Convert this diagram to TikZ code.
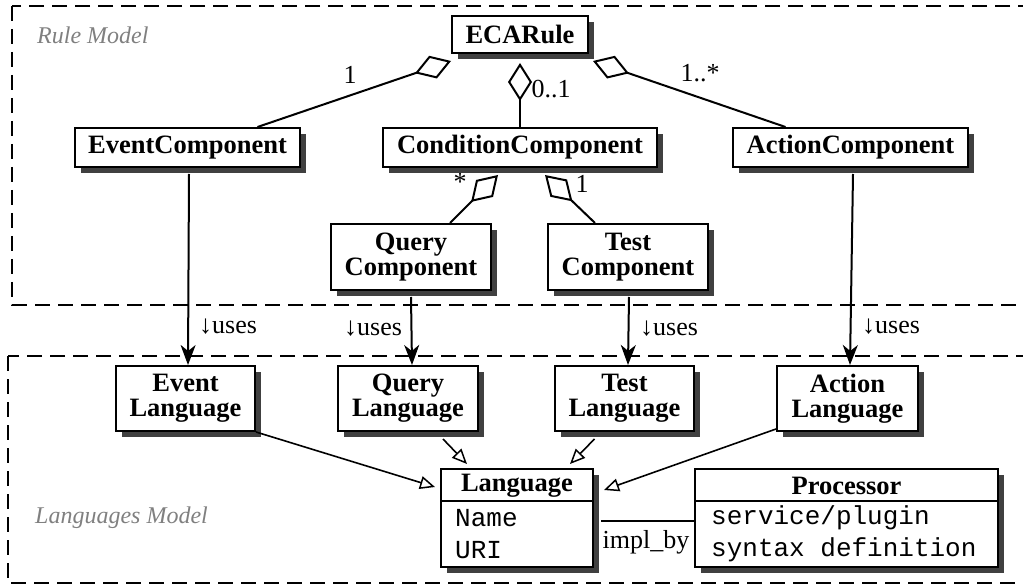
\documentclass[tikz,border=0pt]{standalone}
\usepackage{fontspec}
\setmainfont{Liberation Serif}
\setmonofont{Liberation Mono}
\usetikzlibrary{arrows.meta,shadows}
\definecolor{shadowgray}{HTML}{404040}
\definecolor{labelgray}{HTML}{808080}
\begin{document}
\begin{tikzpicture}[x=1pt,y=-1pt,
  cls/.style={draw, line width=2pt, fill=white, inner sep=0pt,
    font=\bfseries\fontsize{26.5}{25}\selectfont, align=center,
    drop shadow={shadow xshift=6pt, shadow yshift=-6pt, fill=shadowgray, opacity=1}},
  lbl/.style={inner sep=0pt, font=\fontsize{26}{28}\selectfont},
  hdr/.style={inner sep=0pt, font=\bfseries\fontsize{26.5}{28}\selectfont},
  attr/.style={inner sep=0pt, anchor=west, font=\ttfamily\fontsize{26}{28}\selectfont},
  ln/.style={line width=2pt},
  agg/.style={ln, -{Diamond[open, length=38pt, width=24pt, line width=2pt]}},
  uses/.style={ln, -{Stealth[length=20pt, width=15pt, inset=6pt]}},
  gen/.style={line width=1.6pt, -{Triangle[open, length=15pt, width=13pt, line width=1.5pt]}},
  region/.style={line width=2pt, dash pattern=on 15pt off 8pt},
  title/.style={inner sep=0pt, anchor=west, text=labelgray, font=\itshape\fontsize{24}{26}\selectfont}
]
\useasboundingbox (0,0) rectangle (1023,585);
% regions
\draw[region] (12,6) rectangle (1040,305);
\draw[region] (8,356) rectangle (1040,583);
\node[title] (rm) at (37,35) {Rule Model};
\node[title] (lm) at (35,518) {Languages Model};
% classes
\node[cls, minimum width=136pt, minimum height=37pt] (eca) at (520,34.5) {ECARule};
\node[cls, minimum width=225pt, minimum height=39pt] (ev) at (187.5,147.5) {EventComponent};
\node[cls, minimum width=274pt, minimum height=39pt] (cond) at (520,147.5) {ConditionComponent};
\node[cls, minimum width=235pt, minimum height=39pt] (act) at (850.5,147.5) {ActionComponent};
\node[cls, minimum width=160pt, minimum height=66pt] (qc) at (411,257) {Query\\Component};
\node[cls, minimum width=160pt, minimum height=66pt] (tc) at (628,257) {Test\\Component};
\node[cls, minimum width=139pt, minimum height=65pt] (evl) at (185.5,398.5) {Event\\Language};
\node[cls, minimum width=140pt, minimum height=65pt] (ql) at (408,398.5) {Query\\Language};
\node[cls, minimum width=139pt, minimum height=65pt] (tl) at (624.5,398.5) {Test\\Language};
\node[cls, minimum width=141pt, minimum height=65pt] (al) at (847.5,398.5) {Action\\Language};
\node[cls, minimum width=152pt, minimum height=98pt] (lang) at (517,518) {};
\node[cls, minimum width=303pt, minimum height=98pt] (proc) at (846.5,518) {};
\draw[ln] ([yshift=-33pt]lang.north west) -- ([yshift=-33pt]lang.north east);
\draw[ln] ([yshift=-33pt]proc.north west) -- ([yshift=-33pt]proc.north east);
\node[hdr] (langh) at (517,485.5) {Language};
\node[hdr] (proch) at (846.5,485.5) {Processor};
\node[attr] (a1) at (455,518) {Name};
\node[attr] (a2) at (455,550) {URI};
\node[attr] (p1) at (711,518) {service/plugin};
\node[attr] (p2) at (711,550) {syntax definition};
% aggregations
\draw[agg] ([xshift=70pt]ev.north) -- ([yshift=-7pt]eca.south west);
\draw[agg] ([xshift=-65pt]act.north) -- ([xshift=4pt,yshift=-7pt]eca.south east);
\draw[agg] (cond.north) -- ([yshift=-9pt]eca.south);
\draw[agg] ([xshift=39pt]qc.north) -- ([xshift=-22pt,yshift=-7pt]cond.south);
\draw[agg] ([xshift=-33pt]tc.north) -- ([xshift=25pt,yshift=-7pt]cond.south);
\node[lbl] (m1) at (350,75) {1};
\node[lbl] (m2) at (551,89) {0..1};
\node[lbl] (m3) at (700,73) {1..*};
\node[lbl] (m4) at (460,182) {*};
\node[lbl] (m5) at (582,184) {1};
% uses
\draw[uses] ([xshift=1.5pt,yshift=-6pt]ev.south) -- ([xshift=2.5pt]evl.north);
\draw[uses] ([yshift=-6pt]qc.south) -- ([xshift=4pt]ql.north);
\draw[uses] ([xshift=1pt,yshift=-6pt]tc.south) -- ([xshift=3.5pt]tl.north);
\draw[uses] ([xshift=2.5pt,yshift=-6pt]act.south) -- ([xshift=2.5pt]al.north);
\node[lbl, anchor=west] (u1) at (199,327) {↓uses};
\node[lbl, anchor=west] (u2) at (344,329) {↓uses};
\node[lbl, anchor=west] (u3) at (640,329) {↓uses};
\node[lbl, anchor=west] (u4) at (862,327) {↓uses};
% generalizations
\draw[gen] (evl.south east) -- ([xshift=-5pt,yshift=-19pt]lang.north west);
\draw[gen] ([xshift=35pt,yshift=-7pt]ql.south) -- ([xshift=27pt,yshift=4pt]lang.north west);
\draw[gen] ([xshift=-30pt,yshift=-7pt]tl.south) -- ([xshift=-24pt,yshift=4pt]lang.north east);
\draw[gen] ([yshift=3pt]al.south west) -- ([xshift=10pt,yshift=-22pt]lang.north east);
% impl_by
\draw[ln] ([xshift=7pt,yshift=-3pt]lang.east) -- ([yshift=-3pt]proc.west);
\node[lbl] (impl) at (646,542) {impl\_by};
\end{tikzpicture}
\end{document}
